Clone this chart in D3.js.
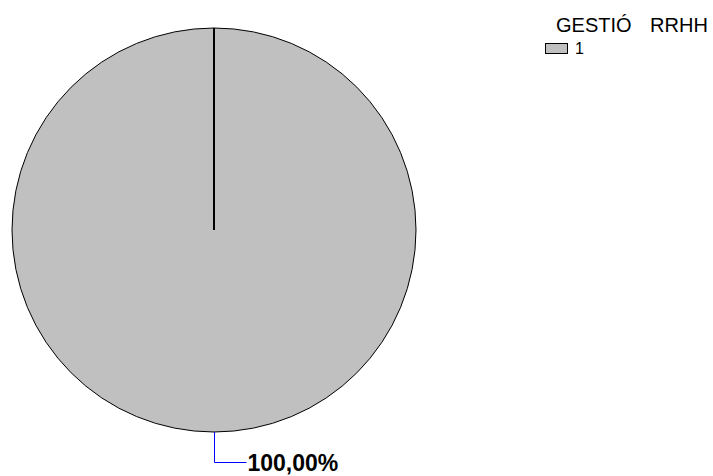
<!DOCTYPE html>
<html>
<head>
<meta charset="utf-8">
<script src="https://cdn.jsdelivr.net/npm/d3@7"></script>
<style>
  html, body { margin: 0; padding: 0; background: #fff; }
  svg { display: block; }
</style>
</head>
<body>
<svg id="chart" width="713" height="476"></svg>
<script>
// Single-category pie: department share
const categories = ["1"];
const values = [100];
const legendTitle = "GESTIÓ RRHH";
const colors = ["#c0c0c0"];

const svg = d3.select("#chart");
const cx = 214, cy = 230, r = 202;
const font = "'Liberation Sans', Arial, sans-serif";

const pie = d3.pie().sort(null).value(d => d)(values);
const arc = d3.arc().innerRadius(0).outerRadius(r);
const total = d3.sum(values);
const fmt = v => d3.format(".2f")(v).replace(".", ",") + "%";

const g = svg.append("g").attr("transform", `translate(${cx},${cy})`);

g.selectAll("path.slice")
  .data(pie)
  .join("path")
  .attr("class", "slice")
  .attr("d", arc)
  .attr("fill", (d, i) => colors[i])
  .attr("stroke", "#000")
  .attr("stroke-width", 1);

// slice boundary edges (radius to start angle)
g.selectAll("line.edge")
  .data(pie)
  .join("line")
  .attr("class", "edge")
  .attr("x1", 0).attr("y1", 0)
  .attr("x2", d => r * Math.sin(d.startAngle))
  .attr("y2", d => -r * Math.cos(d.startAngle))
  .attr("stroke", "#000")
  .attr("stroke-width", 2);

// value labels with leader lines, anchored at bottom of the circle
pie.forEach((d, i) => {
  const mid = (d.startAngle + d.endAngle) / 2;
  const px = r * Math.sin(mid) + 0.5, py = -r * Math.cos(mid);
  g.append("polyline")
    .attr("points", `${px},${py} ${px},${py + 30.5} ${px + 32},${py + 30.5}`)
    .attr("fill", "none")
    .attr("stroke", "#0000ff")
    .attr("stroke-width", 1);
  g.append("text")
    .attr("x", px + 33)
    .attr("y", py + 39)
    .attr("font-family", font)
    .attr("font-size", 23)
    .attr("font-weight", "bold")
    .attr("fill", "#000")
    .text(fmt(d.data / total * 100));
});

// legend
const lg = svg.append("g");
lg.append("text")
  .attr("x", 556).attr("y", 32)
  .attr("font-family", font)
  .attr("font-size", 20)
  .attr("word-spacing", 13)
  .text(legendTitle);
categories.forEach((c, i) => {
  lg.append("rect")
    .attr("x", 545.5).attr("y", 43.5 + i * 18)
    .attr("width", 22).attr("height", 10)
    .attr("fill", colors[i]).attr("stroke", "#000").attr("stroke-width", 1);
  lg.append("text")
    .attr("x", 575).attr("y", 54 + i * 18)
    .attr("font-family", font)
    .attr("font-size", 16)
    .text(c);
});
</script>
</body>
</html>
